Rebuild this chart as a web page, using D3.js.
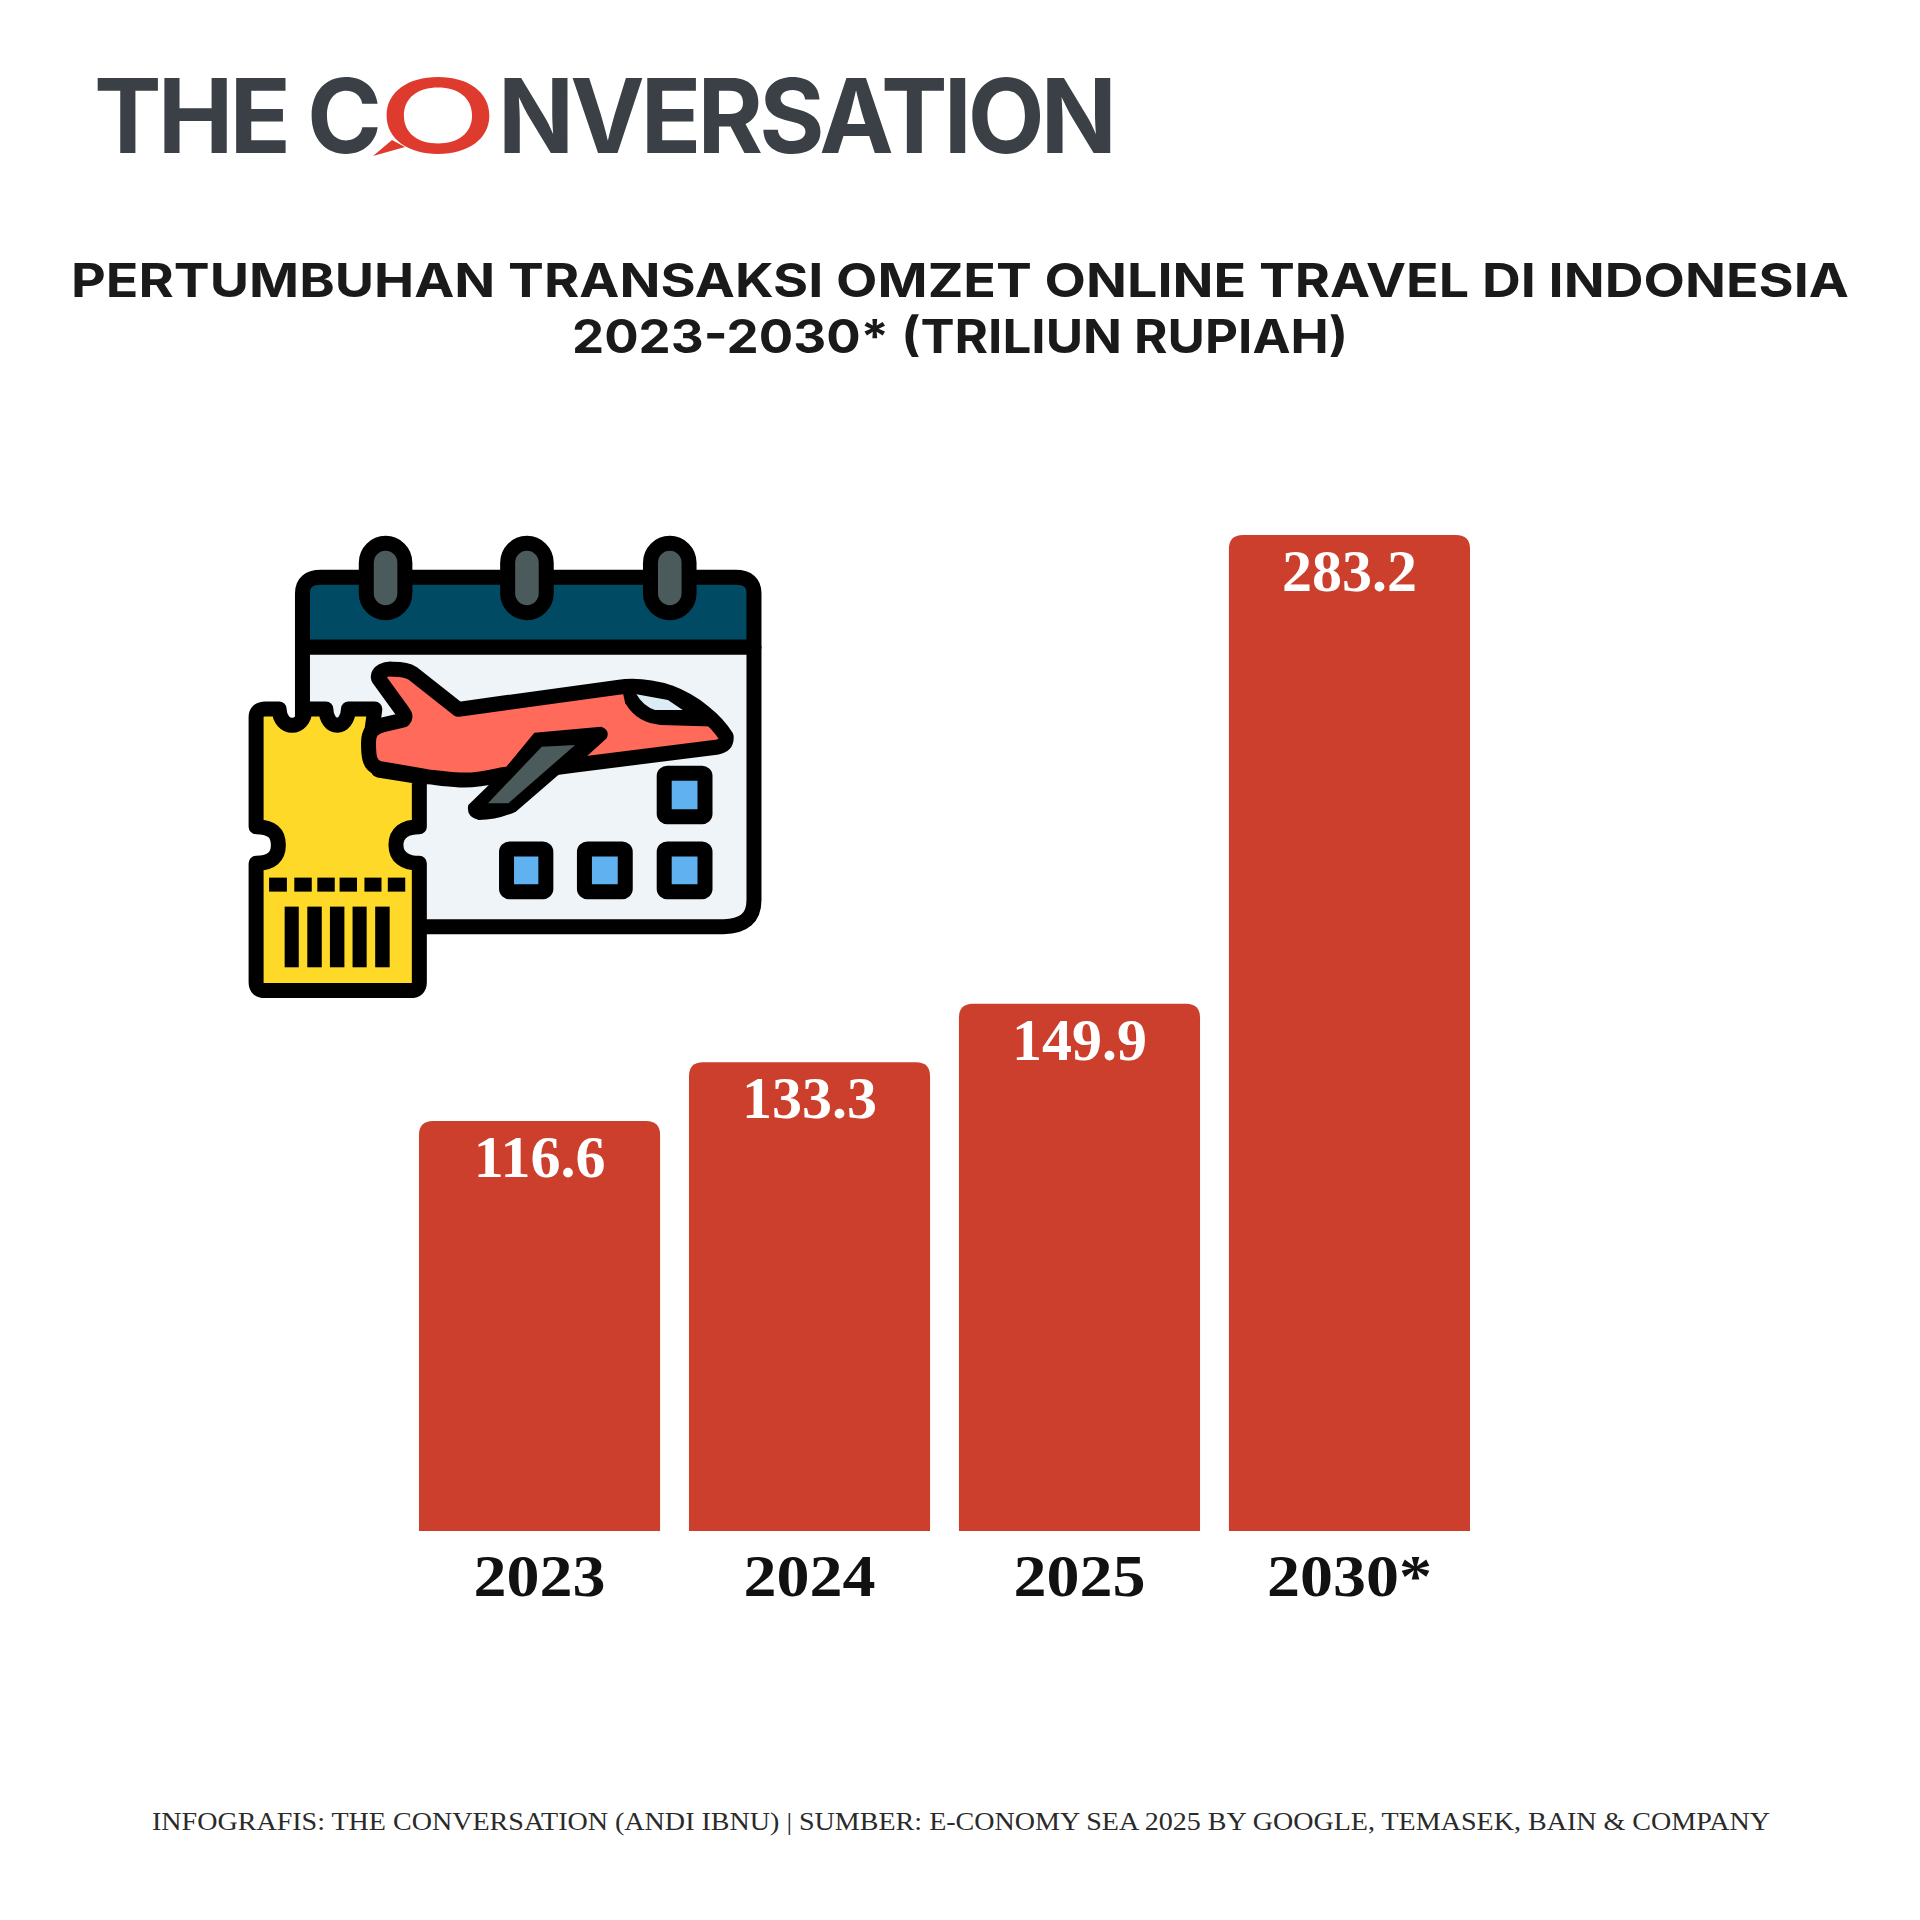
<!DOCTYPE html>
<html>
<head>
<meta charset="utf-8">
<title>Pertumbuhan transaksi omzet online travel di Indonesia</title>
<script src="https://cdn.jsdelivr.net/npm/d3@7/dist/d3.min.js"></script>
<style>
  html, body { margin: 0; padding: 0; background: #fff; }
  svg { display: block; }
</style>
</head>
<body>
<script>
var years = ["2023", "2024", "2025", "2030*"];
var values = [116.6, 133.3, 149.9, 283.2];
var titleLines = [
  "PERTUMBUHAN TRANSAKSI OMZET ONLINE TRAVEL DI INDONESIA",
  "2023-2030* (TRILIUN RUPIAH)"
];
var footer = "INFOGRAFIS: THE CONVERSATION (ANDI IBNU) | SUMBER: E-CONOMY SEA 2025 BY GOOGLE, TEMASEK, BAIN & COMPANY";

var width = 1920, height = 1920;
var barColor = "#cc3f2c";
var serif = "'Liberation Serif', serif";
var sans = "Inter, sans-serif";

var svg = d3.select("body")
    .append("svg")
    .attr("width", width)
    .attr("height", height);

svg.append("rect").attr("width", width).attr("height", height).attr("fill", "#fff");

// logo, the O sits in its own element because it is stretched and red
function logoPart(txt, x, len, fill, weight, spacing) {
  svg.append("text")
      .attr("x", x)
      .attr("y", 153)
      .attr("font-family", sans)
      .attr("font-size", 103)
      .attr("font-weight", weight)
      .attr("letter-spacing", spacing)
      .attr("fill", fill)
      .attr("textLength", len)
      .attr("lengthAdjust", "spacingAndGlyphs")
      .text(txt);
}
logoPart("THE C", 94, 284, "#3a4045", 700, -4);
logoPart("O", 378, 120, "#de3a2e", 500, 0);
logoPart("NVERSATION", 498, 615, "#3a4045", 700, -4);
// speech bubble tail
svg.append("path").attr("d", "M392,140L373,156L405,147Z").attr("fill", "#de3a2e");

// title
svg.selectAll("text.title")
    .data(titleLines)
    .join("text")
    .attr("class", "title")
    .attr("x", 960)
    .attr("y", function(d, i) { return 297 + i * 56; })
    .attr("text-anchor", "middle")
    .attr("font-family", sans)
    .attr("font-size", 47)
    .attr("font-weight", 700)
    .attr("fill", "#1a1a1a")
    .attr("textLength", function(d, i) { return i == 0 ? 1778 : 776; })
    .attr("lengthAdjust", "spacingAndGlyphs")
    .text(function(d) { return d; });

// bars
var xScale = d3.scaleBand()
    .domain(years)
    .range([419, 1470])
    .paddingInner(0.107);

var yScale = d3.scaleLinear()
    .domain([0, 283.2])
    .range([1531, 535]);

function barPath(d, i) {
  var x0 = xScale(years[i]), x1 = x0 + xScale.bandwidth();
  var y0 = yScale(0), y1 = yScale(d), r = 14;
  return "M" + x0 + "," + y0 + "V" + (y1 + r) + "Q" + x0 + "," + y1 + " " + (x0 + r) + "," + y1 +
         "H" + (x1 - r) + "Q" + x1 + "," + y1 + " " + x1 + "," + (y1 + r) + "V" + y0 + "Z";
}

svg.selectAll("path.bar")
    .data(values)
    .join("path")
    .attr("class", "bar")
    .attr("d", barPath)
    .attr("fill", barColor);

svg.selectAll("text.value")
    .data(values)
    .join("text")
    .attr("class", "value")
    .attr("x", function(d, i) { return xScale(years[i]) + xScale.bandwidth() / 2; })
    .attr("y", function(d) { return yScale(d) + 56; })
    .attr("text-anchor", "middle")
    .attr("font-family", serif)
    .attr("font-size", 60)
    .attr("font-weight", 700)
    .attr("fill", "#fff")
    .text(function(d) { return d.toFixed(1); });

var xAxis = d3.axisBottom(xScale).tickSize(0).tickPadding(22);
var axisG = svg.append("g")
    .attr("transform", "translate(0," + yScale(0) + ")")
    .call(xAxis);
axisG.select(".domain").remove();
axisG.selectAll("text")
    .attr("font-family", serif)
    .attr("font-size", 60)
    .attr("font-weight", 700)
    .attr("transform", "scale(1.1,1)")
    .attr("fill", "#111");

// footer
svg.append("text")
    .attr("x", 961)
    .attr("y", 1830)
    .attr("text-anchor", "middle")
    .attr("font-family", serif)
    .attr("font-size", 26)
    .attr("fill", "#2a2a2a")
    .attr("textLength", 1618)
    .attr("lengthAdjust", "spacingAndGlyphs")
    .text(footer);

// calendar / plane / ticket icon
var icon = svg.append("g")
    .attr("transform", "translate(219,510) scale(0.371,0.3333)")
    .attr("stroke", "#000")
    .attr("stroke-linejoin", "round");

function shape(g, d, fill) {
  return g.append("path").attr("d", d).attr("fill", fill)
      .attr("stroke-width", 15).attr("vector-effect", "non-scaling-stroke");
}
function box(g, x, y, w, h, rx, ry, fill) {
  return g.append("rect").attr("x", x).attr("y", y).attr("width", w).attr("height", h)
      .attr("rx", rx).attr("ry", ry).attr("fill", fill)
      .attr("stroke-width", 15).attr("vector-effect", "non-scaling-stroke");
}

// calendar page and header
shape(icon, "M225,412V250Q225,202 275,202H1392Q1442,202 1442,250V412Z", "#014a63");
shape(icon, "M225,412H1442V1170Q1442,1250 1360,1250H225Z", "#eff4f8");

// rings
[397, 778, 1163].forEach(function(x) {
  box(icon, x, 100, 104, 208, 52, 58, "#4b5a5b");
});

// day squares
[[1200, 790, 110, 130], [775, 1017, 106, 128], [985, 1017, 110, 128], [1200, 1017, 110, 128]].forEach(function(s) {
  box(icon, s[0], s[1], s[2], s[3], 8, 8, "#5fb1f0");
});

// ticket
shape(icon, "M100,622Q100,597 125,597H162C164,662 230,662 232,597H288C290,662 347,662 349,597H420L410,680L430,780L540,800V950" +
    "C498,950 477,970 477,1005C477,1040 498,1060 540,1060V1418Q540,1442 516,1442H124Q100,1442 100,1418V1060" +
    "C142,1060 160,1040 160,1005C160,970 142,950 100,950Z", "#fed927");
[[135, 48], [203, 47], [265, 47], [325, 47], [392, 46], [455, 47]].forEach(function(s) {
  icon.append("rect").attr("x", s[0]).attr("y", 1103).attr("width", s[1]).attr("height", 42)
      .attr("fill", "#000").attr("stroke", "none");
});
[[177, 38], [238, 39], [299, 39], [360, 38], [421, 39]].forEach(function(s) {
  icon.append("rect").attr("x", s[0]).attr("y", 1190).attr("width", s[1]).attr("height", 182)
      .attr("fill", "#000").attr("stroke", "none");
});

// plane
shape(icon, "M430,505C425,485 450,475 470,478C495,478 510,482 522,490L645,598L1075,532C1120,525 1160,528 1215,548" +
    "C1280,575 1340,630 1367,680C1368,700 1360,708 1340,712L960,765L760,795C720,805 680,812 650,810C610,808 580,802 560,800L430,775" +
    "C405,765 403,740 403,700C403,670 410,655 440,645L497,630C505,620 500,612 495,605Z", "#ff6a5b");
// cockpit
icon.append("path")
    .attr("d", "M1085,530C1140,515 1190,525 1240,550C1290,580 1330,610 1352,650L1190,645C1150,640 1120,625 1095,580Z")
    .attr("fill", "#000").attr("stroke", "none");
icon.append("path")
    .attr("d", "M1125,553L1210,570L1250,600H1175Q1145,590 1125,553Z")
    .attr("fill", "#dcecf5").attr("stroke", "none");
// wing
icon.append("path")
    .attr("d", "M850,668L1030,650Q1055,660 1045,685L990,740L920,790L800,905Q750,930 700,930Q665,920 672,885L760,790Z")
    .attr("fill", "#000").attr("stroke", "none");
icon.append("path")
    .attr("d", "M870,710L960,705L780,880H725Z")
    .attr("fill", "#4b5a5b").attr("stroke", "none");
</script>
</body>
</html>
